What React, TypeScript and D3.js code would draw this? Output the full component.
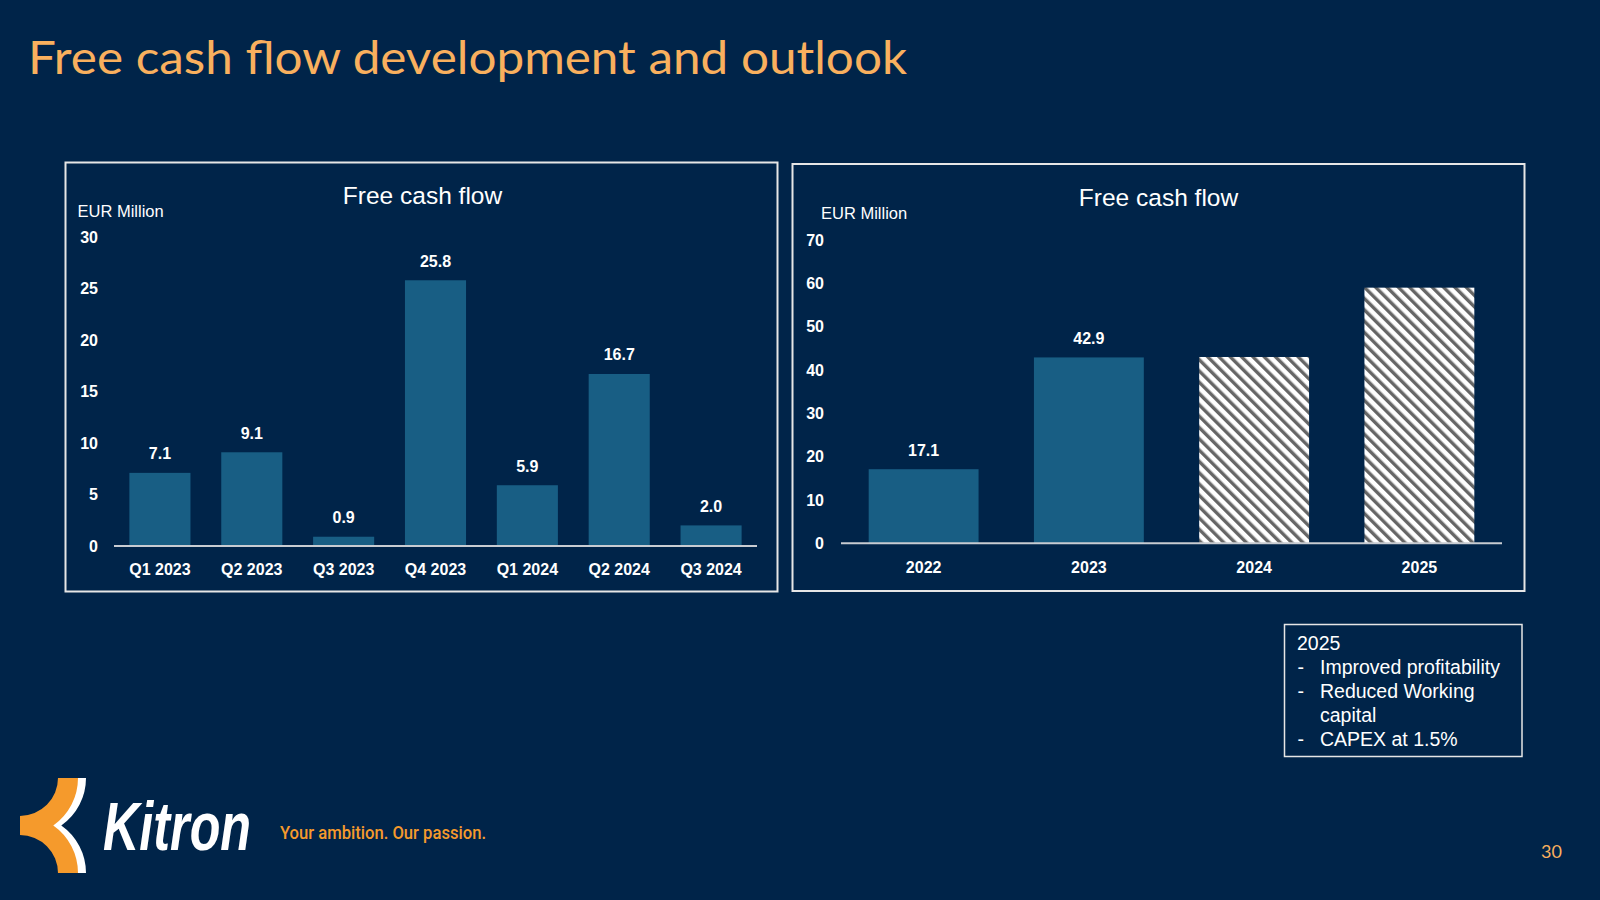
import React from 'react';
import * as d3 from 'd3';

// ---------- data ----------
const quarterCategories = ['Q1 2023', 'Q2 2023', 'Q3 2023', 'Q4 2023', 'Q1 2024', 'Q2 2024', 'Q3 2024'];
const quarterValues = [7.1, 9.1, 0.9, 25.8, 5.9, 16.7, 2.0];
const quarterTicks = [0, 5, 10, 15, 20, 25, 30];

const yearCategories = ['2022', '2023', '2024', '2025'];
const yearValues = [17.1, 42.9, 43.0, 59.0];
const yearForecast = [false, false, true, true];
const yearTicks = [0, 10, 20, 30, 40, 50, 60, 70];

const slideTitle = 'Free cash flow development and outlook';
const panelTitle = 'Free cash flow';
const unitLabel = 'EUR Million';
const outlookHeader = '2025';
const outlookItems = [['Improved profitability'], ['Reduced Working', 'capital'], ['CAPEX at 1.5%']];
const tagline = 'Your ambition. Our passion.';
const pageNumber = '30';

// ---------- styles ----------
const BG = '#002449';
const BAR = '#185E84';
const ORANGE = '#F9B05E';
const LOGO_ORANGE = '#F59A2C';
const FONT = '"Liberation Sans", Arial, sans-serif';

type PanelProps = {
  box: [number, number, number, number];
  titleX: number;
  titleY: number;
  unitX: number;
  unitY: number;
  cats: string[];
  vals: number[];
  hatched?: boolean[];
  ticks: number[];
  xRange: [number, number];
  yRange: [number, number];
  tickRight: number;
  xLabelY: number;
};

function BarPanel(p: PanelProps) {
  const x = d3.scaleBand<string>().domain(p.cats).range(p.xRange).paddingInner(0.335).paddingOuter(0.1675);
  const y = d3.scaleLinear().domain([0, p.ticks[p.ticks.length - 1]]).range(p.yRange);
  const [bx, by, bw, bh] = p.box;
  return (
    <g>
      <rect x={bx} y={by} width={bw} height={bh} fill="none" stroke="#E6E6E6" strokeWidth={2} />
      <text x={p.titleX} y={p.titleY} textAnchor="middle" fill="#FFFFFF" fontFamily={FONT} fontSize={24.5}>
        {panelTitle}
      </text>
      <text x={p.unitX} y={p.unitY} fill="#FFFFFF" fontFamily={FONT} fontSize={16.5}>
        {unitLabel}
      </text>
      {p.ticks.map((t) => (
        <text key={t} x={p.tickRight} y={y(t) + 5.6} textAnchor="end" fill="#FFFFFF" fontFamily={FONT} fontSize={16} fontWeight="bold">
          {t}
        </text>
      ))}
      {p.cats.map((c, i) => {
        const v = p.vals[i];
        const isHatch = p.hatched ? p.hatched[i] : false;
        return (
          <g key={c}>
            <rect
              x={x(c)}
              y={y(v)}
              width={x.bandwidth()}
              height={y(0) - y(v)}
              fill={isHatch ? 'url(#hatch)' : BAR}
            />
            {!isHatch && (
              <text
                x={(x(c) as number) + x.bandwidth() / 2}
                y={y(v) - 13.5}
                textAnchor="middle"
                fill="#FFFFFF"
                fontFamily={FONT}
                fontSize={16}
                fontWeight="bold"
              >
                {v.toFixed(1)}
              </text>
            )}
            <text
              x={(x(c) as number) + x.bandwidth() / 2}
              y={p.xLabelY}
              textAnchor="middle"
              fill="#FFFFFF"
              fontFamily={FONT}
              fontSize={16}
              fontWeight="bold"
            >
              {c}
            </text>
          </g>
        );
      })}
      <line x1={p.xRange[0]} x2={p.xRange[1]} y1={y(0)} y2={y(0)} stroke="#C8CCD2" strokeWidth={2} />
    </g>
  );
}

export default function App() {
  const logoPath =
    'M 58 778 L 78 778 A 58 58 0 0 1 53.3 825.5 A 58 58 0 0 1 78 873 L 58 873 A 38 38 0 0 0 20 835 L 20 816 A 38 38 0 0 0 58 778 Z';
  const lineH = 24;
  let lineIdx = 1;
  return (
    <svg
      width={1600}
      height={900}
      viewBox="0 0 1600 900"
      style={{ position: 'absolute', left: 0, top: 0, display: 'block' }}
    >
      <defs>
        <pattern id="hatch" patternUnits="userSpaceOnUse" width={8} height={8} patternTransform="rotate(-45)">
          <rect x={0} y={0} width={8} height={8} fill="#FFFFFF" />
          <rect x={0} y={0} width={3.4} height={8} fill="#666666" />
        </pattern>
      </defs>
      <rect x={0} y={0} width={1600} height={900} fill={BG} />

      <text
        x={28}
        y={74}
        fill={ORANGE}
        fontFamily='Lato, "Open Sans", sans-serif'
        fontSize={46}
        textLength={879}
        lengthAdjust="spacingAndGlyphs"
      >
        {slideTitle}
      </text>

      <BarPanel
        box={[65.5, 162.5, 712, 429]}
        titleX={422.5}
        titleY={204.3}
        unitX={77.5}
        unitY={217}
        cats={quarterCategories}
        vals={quarterValues}
        ticks={quarterTicks}
        xRange={[114, 757]}
        yRange={[546, 237]}
        tickRight={98}
        xLabelY={575}
      />
      <BarPanel
        box={[792.5, 164, 732, 427]}
        titleX={1158.5}
        titleY={205.7}
        unitX={821}
        unitY={219}
        cats={yearCategories}
        vals={yearValues}
        hatched={yearForecast}
        ticks={yearTicks}
        xRange={[841, 1502]}
        yRange={[543.3, 240]}
        tickRight={824}
        xLabelY={573}
      />

      {/* outlook box */}
      <rect x={1284.5} y={624.5} width={237.5} height={132} fill="none" stroke="#E6E6E6" strokeWidth={1.5} />
      <text x={1297} y={650} fill="#FFFFFF" fontFamily={FONT} fontSize={19.5}>
        {outlookHeader}
      </text>
      {outlookItems.map((item, i) => {
        const els = item.map((ln, j) => {
          const yy = 650 + lineH * lineIdx;
          lineIdx += 1;
          return (
            <g key={`${i}-${j}`}>
              {j === 0 && (
                <text x={1297.5} y={yy} fill="#FFFFFF" fontFamily={FONT} fontSize={19.5}>
                  -
                </text>
              )}
              <text x={1320} y={yy} fill="#FFFFFF" fontFamily={FONT} fontSize={19.5}>
                {ln}
              </text>
            </g>
          );
        });
        return <g key={i}>{els}</g>;
      })}

      {/* logo */}
      <path d={logoPath} fill="#FFFFFF" transform="translate(8,0)" />
      <path d={logoPath} fill={LOGO_ORANGE} />
      <text
        transform="translate(103,850) scale(0.74,1)"
        x={0}
        y={0}
        fill="#FFFFFF"
        fontFamily='"Liberation Sans", Arial, sans-serif'
        fontSize={68}
        fontWeight="bold"
        fontStyle="italic"
      >
        Kitron
      </text>
      <text
        x={280}
        y={838.7}
        fill={LOGO_ORANGE}
        fontFamily='Roboto, "Liberation Sans", sans-serif'
        fontSize={17.5}
        fontWeight={500}
        textLength={206}
        lengthAdjust="spacingAndGlyphs"
      >
        {tagline}
      </text>
      <text x={1541} y={858} fill={ORANGE} fontFamily='Lato, sans-serif' fontSize={18}>
        {pageNumber}
      </text>
    </svg>
  );
}
